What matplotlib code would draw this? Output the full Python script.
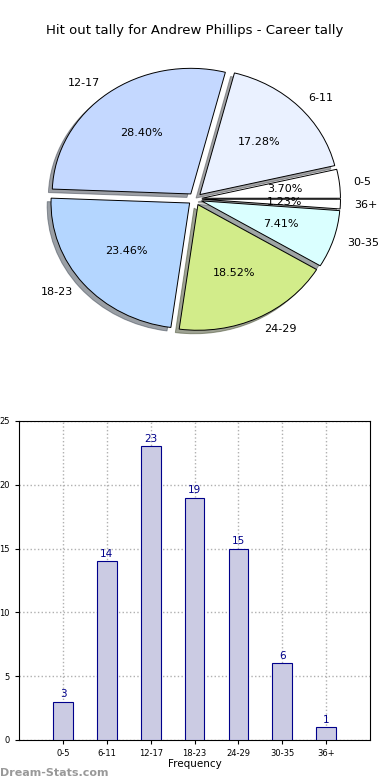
import matplotlib
matplotlib.use("Agg")
import matplotlib.pyplot as plt
import numpy as np

# data
groups = ["0-5", "6-11", "12-17", "18-23", "24-29", "30-35", "36+"]
counts = [3, 14, 23, 19, 15, 6, 1]
pie_colors = ["#ffffff", "#eaf1ff", "#c4d8ff", "#b4d6ff", "#d2ec8a", "#daffff", "#ffffff"]

fig = plt.figure(figsize=(3.9, 7.8), dpi=100)

#%% pie
ax1 = fig.add_axes([0.0556, 0.5436, 0.8885, 0.4026])
wedges, texts, autotexts = ax1.pie(counts, labels=groups, colors=pie_colors,
                                   explode=[0.05] * len(counts), shadow=True,
                                   autopct="%.2f%%", startangle=0,
                                   wedgeprops=dict(edgecolor="black", linewidth=0.7),
                                   textprops=dict(fontsize=8))
ax1.set_aspect("auto")
ax1.set_xlim(-1.25, 1.25)
ax1.set_ylim(-1.25, 1.25)
ax1.set_title("Hit out tally for Andrew Phillips - Career tally", fontsize=9.5, pad=6)

#%% bars
ax2 = fig.add_axes([0.049, 0.0513, 0.9, 0.409])
x = np.arange(len(groups))
ax2.bar(x, counts, width=0.45, color="#cbcbe3", edgecolor="#00008b", linewidth=0.8, zorder=3)
for i, c in zip(x, counts):
    ax2.text(i, c + 0.2, str(c), ha="center", va="bottom", color="#00008b", fontsize=7.5)
ax2.set_xlim(-1, 7)
ax2.set_ylim(0, 25)
ax2.set_xticks(x)
ax2.set_xticklabels(groups, fontsize=6)
ax2.set_yticks([0, 5, 10, 15, 20, 25])
ax2.tick_params(axis="y", labelsize=6, length=3)
ax2.tick_params(axis="x", length=3)
ax2.grid(True, linestyle=":", color="#b0b0b0", linewidth=1)
ax2.set_xlabel("Frequency", fontsize=7.5, labelpad=1)
fig.text(-0.025, 0.25, "Hit Out Tally", rotation=90, fontsize=7.5, ha="left", va="center")

fig.text(0.0, 0.005, "Dream-Stats.com", color="#999999", fontsize=8, fontweight="bold")

fig.savefig("out.png", dpi=100)
